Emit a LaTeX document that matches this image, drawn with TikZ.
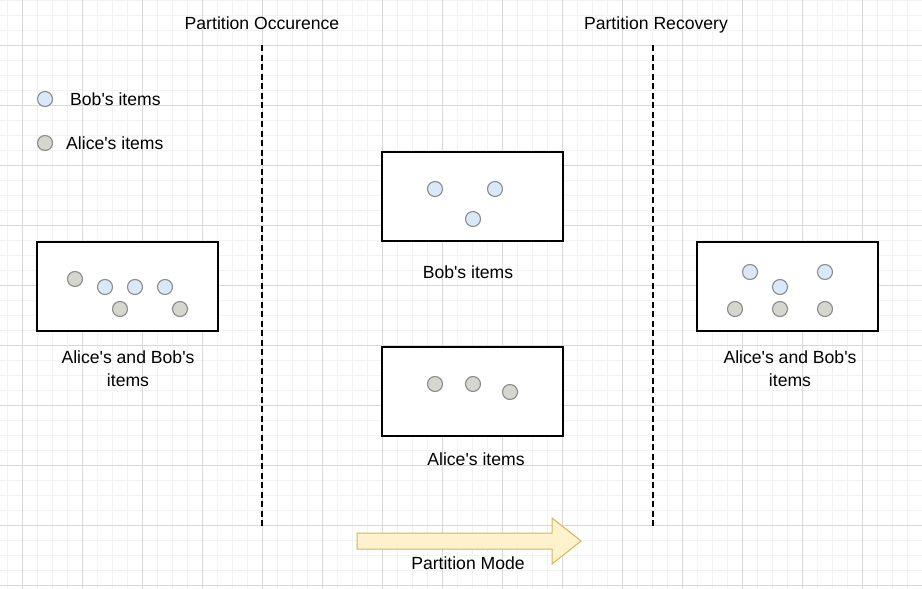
\documentclass[tikz,border=0pt]{standalone}
\usepackage{fontspec}
\setmainfont{Liberation Sans}
\newcommand{\aps}{\textquotesingle}
\begin{document}
\begin{tikzpicture}[x=1pt,y=-1pt,
  lbl/.style={font=\fontsize{17.6}{21}\selectfont, inner sep=0pt, align=center},
  itembox/.style={draw=black, line width=1.3pt, fill=white, minimum width=181pt, minimum height=89pt, inner sep=0pt},
  bobitem/.style={circle, draw=black!45, line width=1.1pt, fill=bobfill, minimum size=15pt, inner sep=0pt},
  aliceitem/.style={circle, draw=black!45, line width=1.1pt, fill=alicefill, minimum size=15pt, inner sep=0pt},
  divider/.style={draw=black, line width=1.3pt, dash pattern=on 6pt off 3.5pt},
  minorgrid/.style={draw=black!5, line width=0.8pt},
  majorgrid/.style={draw=black!15, line width=0.9pt},
]
\definecolor{bobfill}{HTML}{DAE8FC}
\definecolor{alicefill}{HTML}{D5D6CE}
\definecolor{arrowfill}{HTML}{FFF2CC}
\definecolor{arrowdraw}{HTML}{D6B656}
\useasboundingbox (0,0) rectangle (922,589);
\fill[white] (0,0) rectangle (922,589);
% grid
\foreach \x in {7,22,...,922} \draw[minorgrid] (\x,0) -- (\x,589);
\foreach \y in {0,15,...,589} \draw[minorgrid] (0,\y) -- (922,\y);
\foreach \x in {22,82,...,922} \draw[majorgrid] (\x,0) -- (\x,589);
\foreach \y in {45,105,...,589} \draw[majorgrid] (0,\y) -- (922,\y);

% titles
\node[lbl, anchor=base] (t1) at (262,29.3) {Partition Occurence};
\node[lbl, anchor=base] (t2) at (656,29.3) {Partition Recovery};

% dividers
\coordinate (d1a) at (262,45); \coordinate (d1b) at (262,526);
\coordinate (d2a) at (653,45); \coordinate (d2b) at (653,526);
\draw[divider] (d1a) -- (d1b);
\draw[divider] (d2a) -- (d2b);

% legend
\node[bobitem] (lb) at (45,99) {};
\node[lbl, anchor=west] (lbt) at (70,99) {Bob\aps s items};
\node[aliceitem] (la) at (45,143) {};
\node[lbl, anchor=west] (lat) at (66,143) {Alice\aps s items};

% left box
\node[itembox] (b1) at (127.5,286.5) {};
\node[aliceitem] (b1a1) at (75,279) {};
\node[bobitem] (b1b1) at (105,287) {};
\node[bobitem] (b1b2) at (135,287) {};
\node[bobitem] (b1b3) at (165,287) {};
\node[aliceitem] (b1a2) at (120,309) {};
\node[aliceitem] (b1a3) at (180,309) {};
\node[lbl] (b1l) at (128,369) {Alice\aps s and Bob\aps s\\[2pt]items};

% Bob's box
\node[itembox] (b2) at (472.5,196.5) {};
\node[bobitem] (b2b1) at (435,189) {};
\node[bobitem] (b2b2) at (495,189) {};
\node[bobitem] (b2b3) at (473,219) {};
\node[lbl] (b2l) at (468,272) {Bob\aps s items};

% Alice's box
\node[itembox] (b3) at (472.5,391.5) {};
\node[aliceitem] (b3a1) at (435,384) {};
\node[aliceitem] (b3a2) at (473,384) {};
\node[aliceitem] (b3a3) at (510,392) {};
\node[lbl] (b3l) at (476,459) {Alice\aps s items};

% right box
\node[itembox] (b4) at (787.5,286.5) {};
\node[bobitem] (b4b1) at (750,272) {};
\node[bobitem] (b4b2) at (825,272) {};
\node[bobitem] (b4b3) at (780,287) {};
\node[aliceitem] (b4a1) at (735,309) {};
\node[aliceitem] (b4a2) at (780,309) {};
\node[aliceitem] (b4a3) at (825,309) {};
\node[lbl] (b4l) at (790,369) {Alice\aps s and Bob\aps s\\[2pt]items};

% partition mode arrow
\draw[fill=arrowfill, draw=arrowdraw, line width=1pt, line join=miter]
  (357,533) -- (552,533) -- (552,518) -- (581,541) -- (552,564) -- (552,549) -- (357,549) -- cycle;
\node[lbl] (pm) at (468,563) {Partition Mode};
\end{tikzpicture}
\end{document}
